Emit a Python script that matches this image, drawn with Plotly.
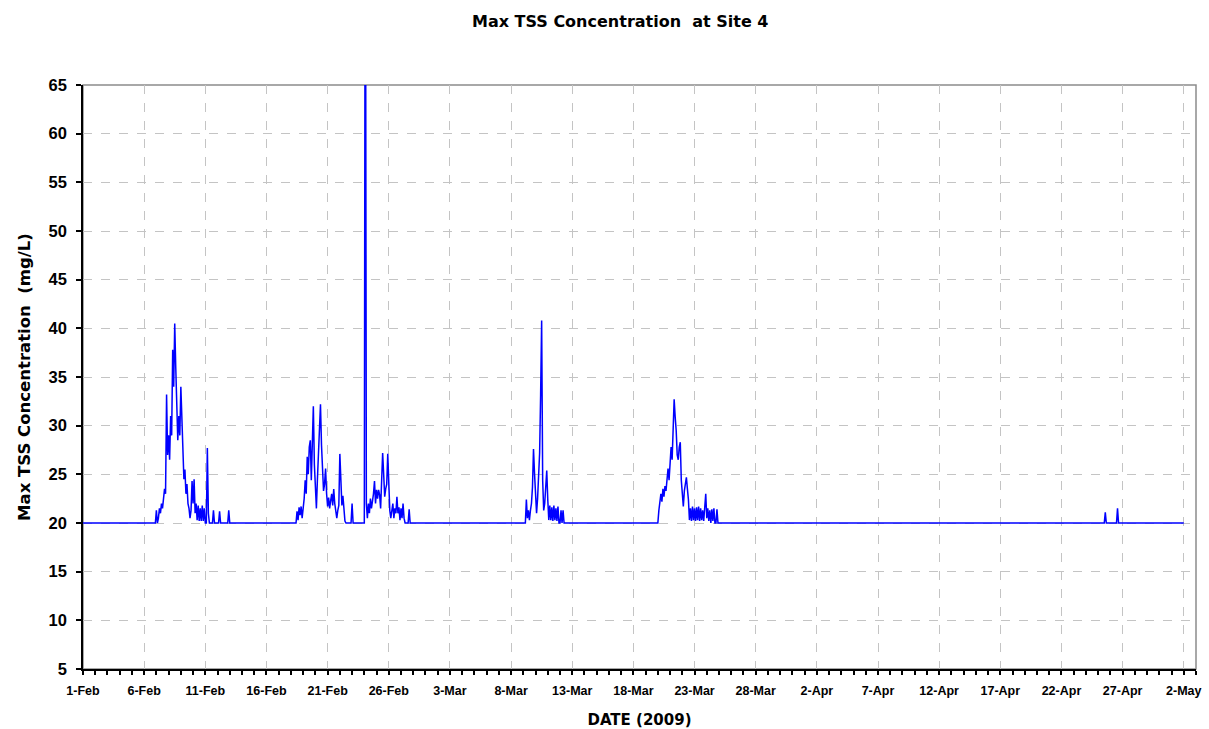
import pandas as pd
import plotly.graph_objects as go

# Baseline record span (values stay at 20 mg/L outside the events)
record_start = "2009-02-01 00:00"
record_end = "2009-05-02 00:00"
baseline = 20.0

# Event readings, sampled every 2 hours from each event's start time
sample_step = "2h"

event1_start = "2009-02-06 20:00"
event1_tss = [20, 20, 21.3, 20, 20.5, 21.5, 21, 22, 21.5, 22.8,
              23.5, 23, 33.2, 27, 29, 26.5, 31, 29, 37.8, 34,
              40.5, 36, 33, 28.5, 31, 29, 34, 30, 27, 24.5,
              25.5, 23, 24, 22, 21.5, 20.5, 21.3, 24.3, 22, 24.5,
              21, 22, 20.3, 21.8, 20.2, 21.5, 20.2, 21.8, 20.2, 21.5,
              20, 20, 27.7, 21, 20, 20, 20, 20, 21.3, 20,
              20, 20, 20, 20, 21.2, 20, 20, 20, 20, 20,
              20, 20, 20, 21.3, 20]

event2_start = "2009-02-18 10:00"
event2_tss = [20, 21.2, 20.3, 21.6, 20.8, 21.7, 20.5, 21.5, 22.5, 24.4,
              23, 26.8, 25, 27.8, 28.5, 24.4, 28, 32, 26, 22.5,
              21.5, 24.5, 27.8, 29, 32.2, 28, 25.5, 23.3, 24, 25.6,
              23, 21.7, 22.6, 21.5, 22.3, 23, 21.8, 23.5, 22, 21.3,
              20.5, 21.3, 21.8, 27.1, 23.2, 21.8, 22.8, 21.6, 20.2, 20,
              20, 20, 20, 20, 20, 22, 20, 20, 20, 20,
              20, 20, 20, 20, 20, 20, 20, 20, 95, 22,
              20.5, 22, 21, 22.5, 21.5, 22.2, 23, 24.3, 22, 23.4,
              22.5, 23.4, 22.9, 21.5, 24.5, 27.2, 25, 22.7, 23.5, 24,
              27.1, 24, 21.3, 20.5, 21.5, 22, 20.5, 21.5, 21, 22.7,
              21, 21.6, 20.3, 21.5, 20.5, 22, 20.5, 20, 20, 20,
              20, 21.4, 20]

event3_start = "2009-03-08 22:00"
event3_tss = [20, 20, 20, 20, 22.4, 20.5, 21.3, 20.3, 21.3, 22,
              23.7, 27.6, 25.1, 23, 21, 22.5, 25, 27.2, 33.2, 40.8,
              24.4, 21.3, 22, 23.5, 25.4, 22.4, 20.3, 21.8, 20.3, 21.6,
              20.2, 21.8, 20.3, 21.5, 20.2, 21.7, 20, 20, 21.3, 20,
              21.3, 20]

event4_start = "2009-03-19 20:00"
event4_tss = [20, 20, 20, 21.3, 22, 23, 22.2, 23.5, 22.7, 23.8,
              23.3, 24.8, 25.6, 24.4, 26, 27.8, 26.5, 29.5, 32.7, 30.9,
              29.5, 27, 26.5, 27.8, 28.3, 24.4, 23, 21.7, 23.3, 24,
              24.7, 23.5, 22.4, 20.3, 21.5, 20.2, 21.7, 20.3, 21.5, 20.2,
              21.6, 20.3, 21.7, 20.2, 21.5, 20.3, 21.3, 20.2, 21.5, 23,
              20.5, 21.5, 20.2, 21.3, 20, 21.4, 20.2, 21.5, 20, 20,
              21.4, 20]

event5_start = "2009-04-25 10:00"
event5_tss = [20, 20, 21.1, 20, 20, 20, 20, 20, 20, 20,
              20, 20, 20, 20, 21.5, 20, 20]

events = [
    (event1_start, event1_tss),
    (event2_start, event2_tss),
    (event3_start, event3_tss),
    (event4_start, event4_tss),
    (event5_start, event5_tss),
]

times = [pd.Timestamp(record_start)]
values = [baseline]
for start, vals in events:
    stamps = pd.date_range(start, periods=len(vals), freq=sample_step)
    times.extend(stamps)
    values.extend(vals)
times.append(pd.Timestamp(record_end))
values.append(baseline)

fig = go.Figure()
fig.add_trace(go.Scatter(
    x=times, y=values, mode="lines",
    line=dict(color="#0000ff", width=1.5),
    showlegend=False, hoverinfo="x+y",
))

tick_font = dict(family="Liberation Sans, Arial, sans-serif", color="black", weight="bold")
title_font = dict(family="DejaVu Sans, sans-serif", color="black", weight="bold")
grid_color = "#c4c4c4"

fig.update_layout(
    width=1209, height=729,
    margin=dict(l=83, r=13, t=85, b=60),
    paper_bgcolor="white", plot_bgcolor="white",
    title=dict(text="Max TSS Concentration  at Site 4", x=0.513, xanchor="center",
               y=0.970, yanchor="middle", font=dict(size=16, **title_font)),
    xaxis=dict(
        type="date",
        range=["2009-02-01", "2009-05-03"],
        tick0="2009-02-01", dtick=5 * 86400000,
        tickformat="%-d-%b",
        tickfont=dict(size=12.5, **tick_font),
        ticks="outside", ticklen=4, tickcolor="black", tickwidth=1.5,
        ticklabelstandoff=5,
        minor=dict(dtick=86400000, ticks="outside", ticklen=4,
                   tickcolor="black", tickwidth=1.5, showgrid=False),
        showgrid=True, gridcolor=grid_color, griddash="dash", gridwidth=1,
        showline=True, linecolor="black", linewidth=1.5,
        zeroline=False, automargin=False,
        title=dict(text="DATE (2009)", font=dict(size=15, **title_font), standoff=20),
    ),
    yaxis=dict(
        range=[5, 65], tick0=5, dtick=5,
        tickfont=dict(size=16.5, **tick_font),
        ticks="outside", ticklen=5, tickcolor="black", tickwidth=1.5,
        ticklabelstandoff=6,
        showgrid=True, gridcolor=grid_color, griddash="dash", gridwidth=1,
        showline=True, linecolor="black", linewidth=1.5,
        zeroline=False, automargin=False,
        title=dict(text="Max TSS Concentration  (mg/L)", font=dict(size=16.5, **title_font), standoff=14),
    ),
    shapes=[dict(type="rect", xref="paper", yref="paper", x0=0, x1=1, y0=0, y1=1,
                 line=dict(color="#8c8c8c", width=1.5), layer="below")],
)

fig.write_html("out.html")
